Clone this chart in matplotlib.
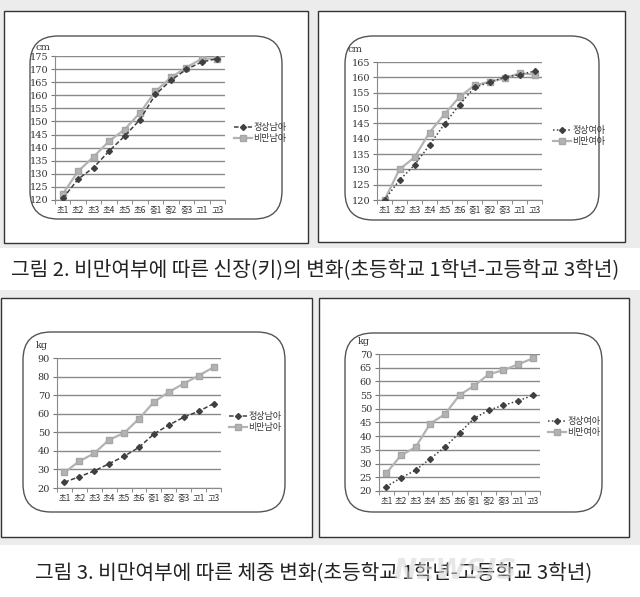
import numpy as np
import matplotlib
matplotlib.use("Agg")
import matplotlib.pyplot as plt
from matplotlib.patches import Rectangle, FancyBboxPatch

plt.rcParams['font.family'] = ['Noto Sans CJK KR', 'DejaVu Sans']

W, H = 640, 597

# 학년 구분
grades = ['초1', '초2', '초3', '초4', '초5', '초6', '중1', '중2', '중3', '고1', '고3']

# 신장 (cm)
height_boy_normal = [120.6, 128.0, 132.4, 138.7, 144.4, 150.7, 160.3, 165.7, 169.9, 172.7, 174.0]
height_boy_obese = [122.3, 131.0, 136.5, 142.5, 146.9, 153.3, 161.5, 166.8, 170.6, 174.0, 174.0]
height_girl_normal = [120.0, 126.5, 131.4, 137.9, 144.8, 151.1, 156.7, 158.4, 160.0, 160.9, 162.0]
height_girl_obese = [120.0, 130.0, 133.9, 142.0, 148.0, 153.6, 157.4, 158.5, 159.7, 161.3, 160.9]

# 체중 (kg)
weight_boy_normal = [23.1, 26.1, 29.2, 33.1, 37.1, 41.9, 49.1, 53.9, 58.1, 61.3, 65.4]
weight_boy_obese = [28.4, 34.4, 38.7, 46.0, 49.6, 57.3, 66.3, 71.7, 76.2, 80.5, 85.0]
weight_girl_normal = [21.6, 24.8, 27.6, 31.8, 36.0, 41.2, 46.5, 49.5, 51.3, 52.9, 54.9]
weight_girl_obese = [26.5, 33.0, 36.0, 44.6, 48.0, 55.0, 58.4, 62.6, 64.1, 66.2, 68.4]

caption_height = '그림 2. 비만여부에 따른 신장(키)의 변화(초등학교 1학년-고등학교 3학년)'
caption_weight = '그림 3. 비만여부에 따른 체중 변화(초등학교 1학년-고등학교 3학년)'


def box(x0, y0, x1, y1):
    """pixel box -> figure rect"""
    return [x0 / W, 1 - y1 / H, (x1 - x0) / W, (y1 - y0) / H]


def fx(x):
    return x / W


def fy(y):
    return 1 - y / H


fig = plt.figure(figsize=(W / 100, H / 100), dpi=100)
fig.patch.set_facecolor('white')

# 회색 배경 띠
for (y0, y1) in [(0, 248), (290, 545)]:
    fig.patches.append(Rectangle((0, fy(y1)), 1, (y1 - y0) / H, transform=fig.transFigure,
                                 facecolor='#ececec', edgecolor='none', zorder=0))

panels = [
    dict(outer=(4, 11, 308, 243), rnd=(30, 36, 282, 219), ax=(55, 56, 225, 200),
         ylim=(120, 175), step=5, unit='cm', unit_pos=(36, 47),
         normal=height_boy_normal, obese=height_boy_obese,
         labels=('정상남아', '비만남아'), leg=(229, 133), ls=(0, (3, 1.5))),
    dict(outer=(318, 11, 625, 242), rnd=(345, 36, 599, 220), ax=(377, 62, 542, 200),
         ylim=(120, 165), step=5, unit='cm', unit_pos=(348, 49),
         normal=height_girl_normal, obese=height_girl_obese,
         labels=('정상여아', '비만여아'), leg=(548, 136), ls=(0, (1, 1.5))),
    dict(outer=(1, 298, 312, 537), rnd=(23, 332, 285, 512), ax=(57, 358, 221, 488),
         ylim=(20, 90), step=10, unit='kg', unit_pos=(36, 346),
         normal=weight_boy_normal, obese=weight_boy_obese,
         labels=('정상남아', '비만남아'), leg=(224, 422), ls=(0, (3, 1.5))),
    dict(outer=(319, 298, 629, 537), rnd=(345, 333, 602, 512), ax=(379, 354, 540, 491),
         ylim=(20, 70), step=5, unit='kg', unit_pos=(358, 342),
         normal=weight_girl_normal, obese=weight_girl_obese,
         labels=('정상여아', '비만여아'), leg=(543, 427), ls=(0, (1, 1.5))),
]

x = np.arange(len(grades))

for p in panels:
    x0, y0, x1, y1 = p['outer']
    fig.patches.append(Rectangle((fx(x0), fy(y1)), (x1 - x0) / W, (y1 - y0) / H,
                                 transform=fig.transFigure, facecolor='white',
                                 edgecolor='#333333', linewidth=1.0, zorder=1))
    r0, s0, r1, s1 = p['rnd']
    fig.patches.append(FancyBboxPatch((r0, H - s1), r1 - r0, s1 - s0,
                                      boxstyle='round,pad=0,rounding_size=28',
                                      transform=None, facecolor='white',
                                      edgecolor='#555555', linewidth=1.0, zorder=2))

    ax = fig.add_axes(box(*p['ax']))
    ax.set_zorder(3)
    ax.patch.set_alpha(0)
    ax.plot(x, p['obese'], color='#b3b3b3', linewidth=1.6, marker='s', markersize=5,
            markerfacecolor='#b3b3b3', markeredgecolor='#a6a6a6', label=p['labels'][1], zorder=3)
    ax.plot(x, p['normal'], color='#404040', linewidth=1.1, linestyle=p['ls'], marker='D',
            markersize=3, markerfacecolor='#404040', markeredgecolor='#404040',
            label=p['labels'][0], zorder=4)

    lo, hi = p['ylim']
    ax.set_ylim(lo, hi)
    ax.set_xlim(-0.5, len(grades) - 0.5)
    yt = np.arange(lo, hi + 0.1, p['step'])
    ax.set_yticks(yt)
    ax.set_yticklabels([str(int(v)) for v in yt], fontsize=7, color='#333333',
                       family=['DejaVu Serif'])
    ax.set_xticks(x)
    ax.set_xticklabels(grades, fontsize=6, color='#333333')
    ax.set_xticks(np.arange(-0.5, len(grades)), minor=True)
    ax.tick_params(axis='x', which='major', length=0, pad=4)
    ax.tick_params(axis='x', which='minor', length=3, color='#777777', direction='out')
    ax.tick_params(axis='y', length=3, color='#777777', pad=2)
    ax.grid(axis='y', color='#8a8a8a', linewidth=1.0)
    ax.set_axisbelow(True)
    for s in ['top', 'right']:
        ax.spines[s].set_visible(False)
    for s in ['left', 'bottom']:
        ax.spines[s].set_color('#8a8a8a')

    ux, uy = p['unit_pos']
    fig.text(fx(ux), fy(uy), p['unit'], fontsize=7, color='#333333',
             family=['DejaVu Serif'], va='center', ha='left', zorder=5)

    handles, labels = ax.get_legend_handles_labels()
    lx, ly = p['leg']
    ax.legend(handles[::-1], labels[::-1], loc='center left',
              bbox_to_anchor=(fx(lx), fy(ly)), bbox_transform=fig.transFigure,
              frameon=False, fontsize=6.5, handlelength=2.0, handletextpad=0.2,
              labelspacing=0.15, borderpad=0, labelcolor='#333333')

fig.text(fx(315), fy(270), caption_height, fontsize=14.6, color='#222222', ha='center', va='center')
fig.text(fx(314), fy(573), caption_weight, fontsize=14.6, color='#222222', ha='center', va='center')

# 워터마크
fig.text(fx(455), fy(571), 'NEWSIS', fontsize=20, fontweight='bold', style='italic',
         color='#d4d4d4', alpha=0.55, ha='center', va='center', family=['DejaVu Sans'])

fig.savefig('out.png', dpi=100)
